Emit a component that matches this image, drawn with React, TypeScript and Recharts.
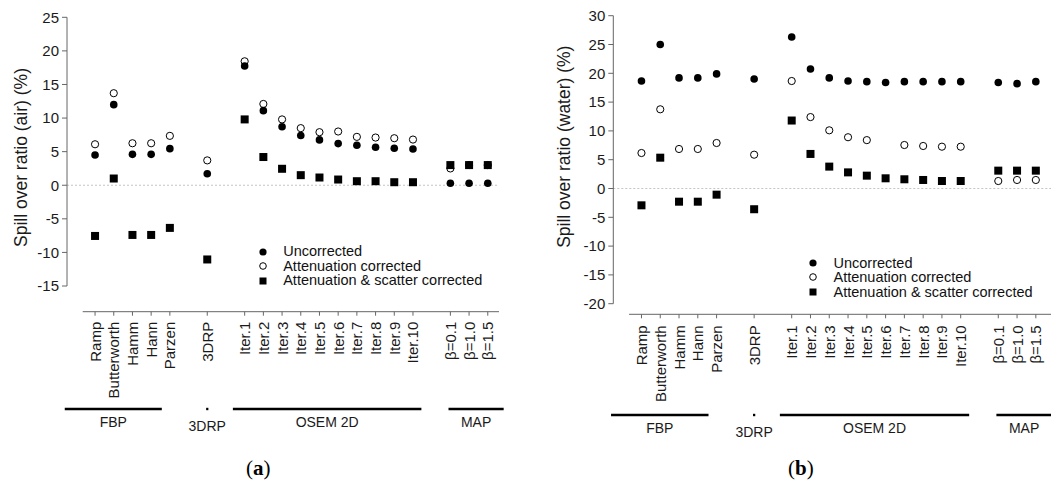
import { ScatterChart, Scatter, XAxis, YAxis, ReferenceLine, Legend } from 'recharts'

const categories = ['Ramp', 'Butterworth', 'Hamm', 'Hann', 'Parzen', '3DRP', 'Iter.1', 'Iter.2', 'Iter.3', 'Iter.4', 'Iter.5', 'Iter.6', 'Iter.7', 'Iter.8', 'Iter.9', 'Iter.10', 'β=0.1', 'β=1.0', 'β=1.5']
// slot of each category on the x axis, gaps split the method groups
const slots = [0, 1, 2, 3, 4, 6, 8, 9, 10, 11, 12, 13, 14, 15, 16, 17, 19, 20, 21]

const seriesNames = ['Uncorrected', 'Attenuation corrected', 'Attenuation & scatter corrected']

// (a) air
const airUncorrected = [4.5, 12.0, 4.6, 4.6, 5.45, 1.7, 17.75, 11.1, 8.7, 7.4, 6.75, 6.2, 5.95, 5.65, 5.5, 5.4, 0.3, 0.3, 0.3]
const airAttenuation = [6.1, 13.7, 6.25, 6.25, 7.35, 3.7, 18.45, 12.1, 9.8, 8.5, 7.9, 8.0, 7.2, 7.1, 7.0, 6.8, 2.5, 3.0, 3.0]
const airScatter = [-7.55, 1.0, -7.4, -7.4, -6.35, -11.05, 9.8, 4.2, 2.45, 1.5, 1.15, 0.85, 0.6, 0.6, 0.45, 0.45, 3.0, 3.0, 3.0]

// (b) water
const waterUncorrected = [18.66, 25.0, 19.2, 19.2, 19.9, 19.0, 26.3, 20.75, 19.2, 18.66, 18.55, 18.4, 18.55, 18.55, 18.55, 18.55, 18.4, 18.2, 18.55]
const waterAttenuation = [6.16, 13.75, 6.86, 6.86, 7.9, 5.87, 18.66, 12.4, 10.1, 8.9, 8.4, null, 7.55, 7.38, 7.26, 7.26, 1.3, 1.48, 1.48]
const waterScatter = [-2.92, 5.35, -2.29, -2.29, -1.07, -3.6, 11.8, 6.0, 3.8, 2.8, 2.23, 1.77, 1.6, 1.48, 1.3, 1.3, 3.1, 3.1, 3.1]

const airTicks = [-15, -10, -5, 0, 5, 10, 15, 20, 25]
const waterTicks = [-20, -15, -10, -5, 0, 5, 10, 15, 20, 25, 30]

// reconstruction method brackets under the category axis (x in slot units)
const methodGroups = [
  { name: 'FBP', from: -1.62, to: 3.57 },
  { name: '3DRP', from: 5.94, to: 6.06 },
  { name: 'OSEM 2D', from: 7.37, to: 17.45 },
  { name: 'MAP', from: 18.9, to: 21.85 },
]

const FONT = '"Liberation Sans", Arial, Helvetica, sans-serif'
const X_MIN = -1.5
const X_AXIS_H = 30
const LEGEND_ROW = 14.5

function toPoints(values: (number | null)[]) {
  return values
    .map((v, i) => ({ x: slots[i], y: v, name: categories[i] }))
    .filter((p) => p.y !== null)
}

const FilledDot = (p: any) => <circle cx={p.cx} cy={p.cy} r={3.8} fill="#000" />
const OpenDot = (p: any) => <circle cx={p.cx} cy={p.cy} r={3.6} fill="#fff" stroke="#000" strokeWidth={1} />
const SquareDot = (p: any) => <rect x={p.cx - 4} y={p.cy - 4} width={8} height={8} fill="#000" />

function legendMarker(i: number) {
  if (i === 0) return <circle cx={6} cy={6} r={3.6} fill="#000" />
  if (i === 1) return <circle cx={6} cy={6} r={3.3} fill="#fff" stroke="#000" strokeWidth={1} />
  return <rect x={2.5} y={2.5} width={7} height={7} fill="#000" />
}

function CategoryTick(props: any) {
  const { x, y, payload, drop, gap } = props
  const label = categories[slots.indexOf(payload.value)]
  const top = y + drop
  const ty = top + gap
  return (
    <g>
      <line x1={x} x2={x} y1={top} y2={top + 4} stroke="#666" />
      <text
        x={x}
        y={ty}
        transform={`rotate(-90 ${x} ${ty})`}
        textAnchor="end"
        dominantBaseline="central"
        fontSize={15}
        fill="#1a1a1a"
      >
        {label}
      </text>
    </g>
  )
}

interface PanelProps {
  width: number
  height: number
  margin: { top: number; right: number; bottom: number; left: number }
  yWidth: number
  yTicks: number[]
  xMax: number
  yTitle: string
  titleAt: [number, number]
  values: (number | null)[][]
  axisDrop: number
  groupDrop: number
  tickGap: number
  legendAt: [number, number]
}

function Panel(p: PanelProps) {
  const yMin = p.yTicks[0]
  const yMax = p.yTicks[p.yTicks.length - 1]
  const plotH = p.height - p.margin.top - p.margin.bottom - X_AXIS_H
  const pxPerUnit = plotH / (yMax - yMin)
  const axisY = yMin - p.axisDrop / pxPerUnit
  const groupY = yMin - (p.axisDrop + p.groupDrop) / pxPerUnit

  const [uncorrected, attenuation, scatter] = p.values

  const renderLegend = () => (
    <div style={{ fontSize: 14.5, color: '#111', fontFamily: FONT }}>
      {seriesNames.map((name, i) => (
        <div key={name} style={{ display: 'flex', alignItems: 'center', height: LEGEND_ROW, lineHeight: `${LEGEND_ROW}px`, whiteSpace: 'nowrap' }}>
          <svg width={12} height={12} style={{ marginRight: 14.5, flex: 'none' }}>
            {legendMarker(i)}
          </svg>
          <span>{name}</span>
        </div>
      ))}
    </div>
  )

  const renderTitle = () => {
    const [cx, cy] = p.titleAt
    return (
      <text
        x={cx}
        y={cy}
        transform={`rotate(-90 ${cx} ${cy})`}
        textAnchor="middle"
        dominantBaseline="central"
        fontSize={17.5}
        fill="#1a1a1a"
      >
        {p.yTitle}
      </text>
    )
  }

  return (
    <ScatterChart width={p.width} height={p.height} margin={p.margin}>
      <XAxis
        type="number"
        dataKey="x"
        domain={[X_MIN, p.xMax]}
        ticks={slots}
        interval={0}
        allowDataOverflow
        height={X_AXIS_H}
        axisLine={false}
        tickLine={false}
        tickSize={0}
        tickMargin={0}
        tick={<CategoryTick drop={p.axisDrop} gap={p.tickGap} />}
      />
      <YAxis
        type="number"
        dataKey="y"
        domain={[yMin, yMax]}
        ticks={p.yTicks}
        interval={0}
        allowDataOverflow
        width={p.yWidth}
        stroke="#666"
        tickSize={5}
        tickMargin={3}
        tick={{ fill: '#1a1a1a', fontSize: 15 }}
        label={{ content: renderTitle }}
      />
      <ReferenceLine y={0} stroke="#c4c4c4" strokeDasharray="2 2" />
      <ReferenceLine
        segment={[{ x: -0.66, y: axisY }, { x: p.xMax, y: axisY }]}
        ifOverflow="visible"
        stroke="#666"
      />
      {methodGroups.map((g) => (
        <ReferenceLine
          key={g.name}
          segment={[{ x: g.from, y: groupY }, { x: g.to, y: groupY }]}
          ifOverflow="visible"
          stroke="#000"
          strokeWidth={2.4}
          label={{ value: g.name, position: 'bottom', offset: g.to - g.from < 0.5 ? 12 : 8.5, fill: '#1a1a1a', fontSize: 14 }}
        />
      ))}
      <Scatter name={seriesNames[1]} data={toPoints(attenuation)} shape={OpenDot} isAnimationActive={false} />
      <Scatter name={seriesNames[0]} data={toPoints(uncorrected)} shape={FilledDot} isAnimationActive={false} />
      <Scatter name={seriesNames[2]} data={toPoints(scatter)} shape={SquareDot} isAnimationActive={false} />
      <Legend
        layout="vertical"
        align="center"
        verticalAlign="middle"
        content={renderLegend}
        wrapperStyle={{ left: p.legendAt[0], top: p.legendAt[1], width: 'auto' }}
      />
    </ScatterChart>
  )
}

const captionStyle: React.CSSProperties = {
  position: 'absolute',
  width: 60,
  top: 456,
  lineHeight: '24px',
  textAlign: 'center',
  fontFamily: '"Liberation Serif", "DejaVu Serif", serif',
  fontSize: 21,
  color: '#000',
}

export default function App() {
  return (
    <div
      style={{
        position: 'absolute',
        left: 0,
        top: 0,
        width: 1051,
        height: 484,
        overflow: 'hidden',
        background: '#fff',
        fontFamily: FONT,
      }}
    >
      <div style={{ position: 'absolute', left: 0, top: 0 }}>
        <Panel
          width={520}
          height={484}
          margin={{ top: 17.3, right: 21, bottom: 168, left: 0 }}
          yWidth={67}
          yTicks={airTicks}
          xMax={21.6}
          yTitle="Spill over ratio (air) (%)"
          titleAt={[21, 157.5]}
          values={[airUncorrected, airAttenuation, airScatter]}
          axisDrop={25.7}
          groupDrop={97.3}
          tickGap={10}
          legendAt={[256.7, 244.3]}
        />
      </div>
      <div style={{ position: 'absolute', left: 520, top: 0 }}>
        <Panel
          width={560}
          height={484}
          margin={{ top: 15.7, right: 16, bottom: 150.3, left: 0 }}
          yWidth={93.3}
          yTicks={waterTicks}
          xMax={22.5}
          yTitle="Spill over ratio (water) (%)"
          titleAt={[43.8, 146.7]}
          values={[waterUncorrected, waterAttenuation, waterScatter]}
          axisDrop={10.6}
          groupDrop={100.7}
          tickGap={11}
          legendAt={[287, 255.6]}
        />
      </div>
      <div style={{ ...captionStyle, left: 258.3 - 30 }}>
        (<b>a</b>)
      </div>
      <div style={{ ...captionStyle, left: 800.8 - 30 }}>
        (<b>b</b>)
      </div>
    </div>
  )
}
